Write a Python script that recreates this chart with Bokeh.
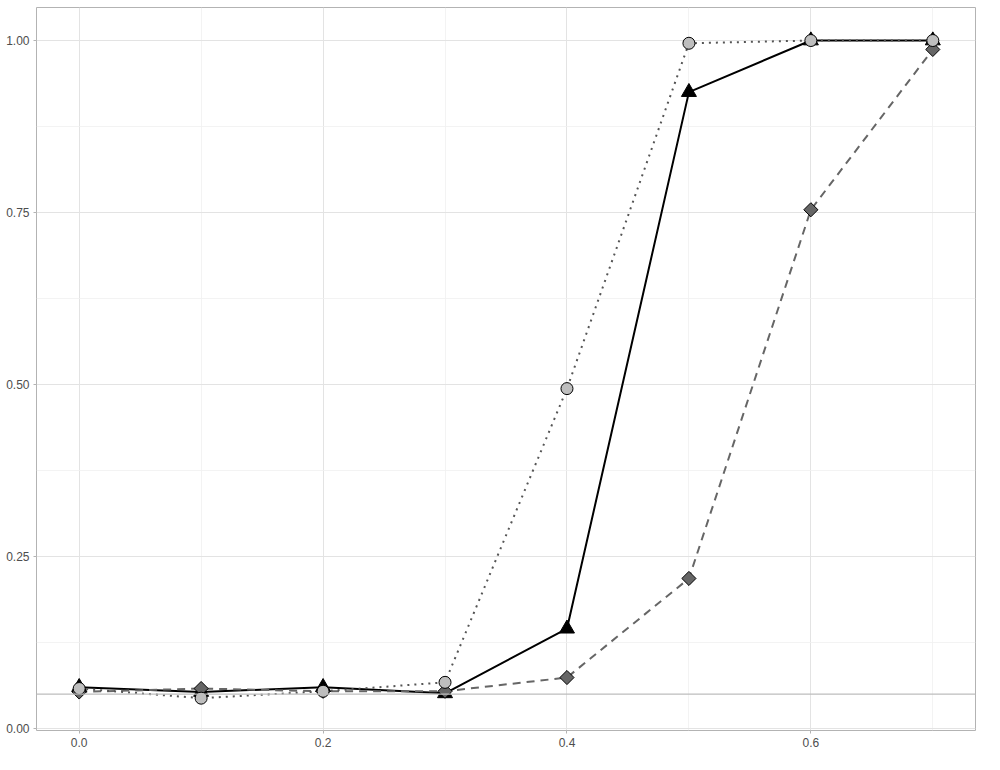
import math
from bokeh.plotting import figure
from bokeh.models import Range1d, FixedTicker, Span, NumeralTickFormatter
from bokeh.embed import file_html
from bokeh.resources import INLINE

x = [0.0, 0.1, 0.2, 0.3, 0.4, 0.5, 0.6, 0.7]
tri = [0.060, 0.053, 0.060, 0.051, 0.145, 0.925, 1.000, 1.000]
dia = [0.053, 0.058, 0.054, 0.054, 0.074, 0.218, 0.754, 0.987]
cir = [0.058, 0.044, 0.054, 0.067, 0.494, 0.996, 1.000, 1.000]
ref_level = 0.05
x_ticks = [0.0, 0.2, 0.4, 0.6]
x_minor = [0.1, 0.3, 0.5, 0.7]
y_ticks = [0.0, 0.25, 0.5, 0.75, 1.0]
y_minor = [0.125, 0.375, 0.625, 0.875]

p = figure(width=984, height=754, output_backend="svg", toolbar_location=None,
           x_range=Range1d(-0.035, 0.735), y_range=Range1d(-0.003, 1.048),
           min_border_left=36, min_border_right=9, min_border_top=7, min_border_bottom=24)

p.outline_line_color = "#B3B3B3"
p.outline_line_width = 1
p.background_fill_color = "white"
p.border_fill_color = "white"

p.xaxis.ticker = FixedTicker(ticks=x_ticks, minor_ticks=x_minor)
p.yaxis.ticker = FixedTicker(ticks=y_ticks, minor_ticks=y_minor)
p.xaxis.formatter = NumeralTickFormatter(format="0.0")
p.yaxis.formatter = NumeralTickFormatter(format="0.00")
for ax in (p.xaxis, p.yaxis):
    ax.axis_line_color = None
    ax.major_tick_line_color = "#B3B3B3"
    ax.major_tick_in = 0
    ax.major_tick_out = 3
    ax.minor_tick_line_color = None
    ax.major_label_text_color = "#4D4D4D"
    ax.major_label_text_font = "Liberation Sans"
    ax.major_label_text_font_size = "12px"
    ax.major_label_standoff = 3

p.xgrid.grid_line_color = "#E3E3E3"
p.ygrid.grid_line_color = "#E3E3E3"
p.xgrid.grid_line_width = 1
p.ygrid.grid_line_width = 1
p.xgrid.minor_grid_line_color = "#F0F0F0"
p.ygrid.minor_grid_line_color = "#F0F0F0"
p.xgrid.minor_grid_line_width = 0.8
p.ygrid.minor_grid_line_width = 0.8

p.add_layout(Span(location=ref_level, dimension="width", line_color="#BDBDBD", line_width=1.2))

p.line(x, tri, line_color="black", line_width=2)
p.line(x, dia, line_color="#666666", line_width=2, line_dash="8 6")
p.line(x, cir, line_color="#555555", line_width=2, line_dash="2 5")

p.scatter(x, tri, marker="triangle", size=15, fill_color="black", line_color="black", line_width=1)
p.scatter(x, dia, marker="square", angle=math.pi / 4, size=10, fill_color="#666666",
          line_color="black", line_width=1)
p.scatter(x, cir, marker="circle", size=12, fill_color="#BEBEBE", line_color="black", line_width=1)

open("out.html", "w").write(file_html(p, INLINE))
